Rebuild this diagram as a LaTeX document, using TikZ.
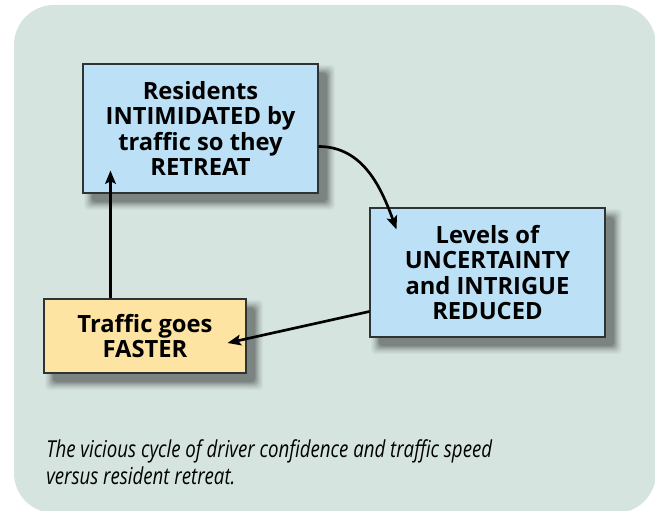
\documentclass[tikz,border=0pt]{standalone}
\usepackage{fontspec}
\setmainfont{Open Sans}
\newfontfamily\capfont[FakeStretch=0.8]{Open Sans}
\usepackage{tikz}
\usetikzlibrary{arrows.meta, calc}

\definecolor{panelgreen}{HTML}{D5E4DF}
\definecolor{boxblue}{HTML}{BCE0F5}
\definecolor{boxyellow}{HTML}{FDE4A2}
\definecolor{boxedge}{HTML}{2E3436}

\begin{document}
\begin{tikzpicture}[x=0.75pt, y=0.75pt,
    cyclebox/.style={draw=boxedge, line width=0.8pt, fill=boxblue, align=center,
        inner sep=0pt, minimum width=176.25pt, minimum height=96.75pt,
        font=\fontsize{17.8}{19.1}\selectfont\bfseries},
    link/.style={line width=2pt, -{Stealth[length=10pt, width=8pt, inset=2pt]}}]
    \useasboundingbox (0,0) rectangle (655,510);
    \fill[panelgreen, rounded corners=30pt] (14,-3) rectangle (656,505);

    % soft drop shadows under the boxes (centre x/y, half width/height)
    \foreach \cx/\cy/\hw/\hh in {200.5/381.5/117.5/64.5, 487.5/237.5/117.5/64.5, 145/174/101/37}
        \foreach \e/\p in {8/3,7/6,6/10,5/14,4/19,3/24,2/30,1/36,0/42}
            \fill[black!\p!panelgreen, rounded corners=3pt]
                (\cx-\hw+9-\e, \cy-\hh-9-\e) rectangle (\cx+\hw+9+\e, \cy+\hh-9+\e);

    \node[cyclebox] (resid) at (200.5,381.5) {Residents\\INTIMIDATED by\\traffic so they\\RETREAT};
    \node[cyclebox] (levels) at (487.5,237.5) {Levels of\\UNCERTAINTY\\and INTRIGUE\\REDUCED};
    \node[cyclebox, fill=boxyellow, minimum width=151.5pt, minimum height=55.5pt] (faster) at (145,174) {Traffic goes\\FASTER};

    \draw[link] ($(faster.north west)+(67,0)$) -- ($(resid.south west)+(28,23)$);
    \draw[link] ($(resid.east)+(0,-18)$) to[out=0, in=110] ($(levels.north west)+(27,-22)$);
    \draw[link] ($(levels.west)+(0,-39)$) -- ($(faster.east)+(-19,-7)$);

    \node[anchor=base west, align=left, inner sep=0pt, font=\capfont\itshape\fontsize{17.5}{20.25}\selectfont] (caption) at (46,26)
        {The vicious cycle of driver confidence and traffic speed\\versus resident retreat.};
\end{tikzpicture}
\end{document}
